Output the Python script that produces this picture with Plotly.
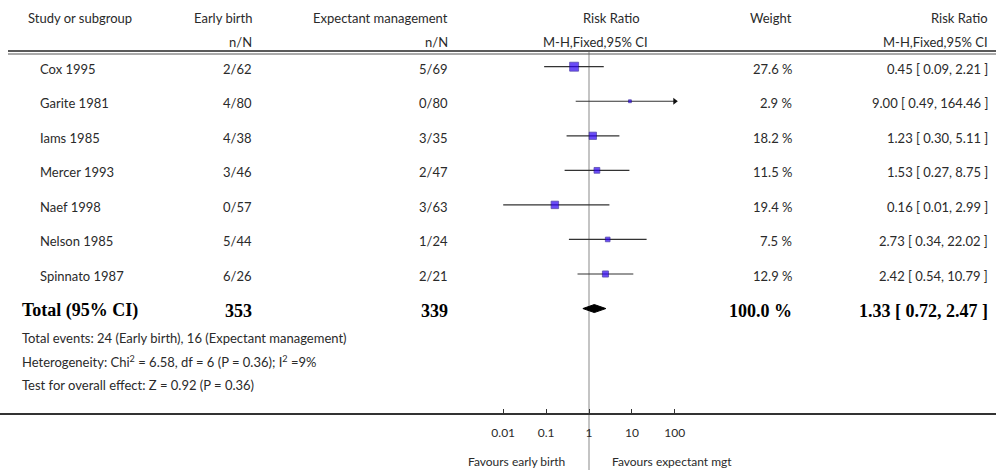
import plotly.graph_objects as go
import math

# ---------------- data ----------------
studies = ["Cox 1995", "Garite 1981", "Iams 1985", "Mercer 1993", "Naef 1998", "Nelson 1985", "Spinnato 1987"]
early_n = [2, 4, 4, 3, 0, 5, 6]
early_N = [62, 80, 38, 46, 57, 44, 26]
expect_n = [5, 0, 3, 2, 3, 1, 2]
expect_N = [69, 80, 35, 47, 63, 24, 21]
rr = [0.45, 9.00, 1.23, 1.53, 0.16, 2.73, 2.42]
rr_lo = [0.09, 0.49, 0.30, 0.27, 0.01, 0.34, 0.54]
rr_hi = [2.21, 164.46, 5.11, 8.75, 2.99, 22.02, 10.79]
weight = [27.6, 2.9, 18.2, 11.5, 19.4, 7.5, 12.9]

total_early = 353
total_expect = 339
total_weight = 100.0
total_rr = 1.33
total_lo = 0.72
total_hi = 2.47

tick_vals = [0.01, 0.1, 1, 10, 100]
tick_text = ["0.01", "0.1", "1", "10", "100"]

footer_lines = [
    "Total events: 24 (Early birth), 16 (Expectant management)",
    "Heterogeneity: Chi<sup>2</sup> = 6.58, df = 6 (P = 0.36); I<sup>2</sup> =9%",
    "Test for overall effect: Z = 0.92 (P = 0.36)",
]

# ---------------- layout helpers ----------------
W, H = 996, 470
X0_PX = 589.0       # pixel of RR = 1
DEC_PX = 42.9       # pixels per decade
AX_MAX = 100        # clip limit of the plot
ROW0 = 66.7
ROW_STEP = 34.55

FONT = "Lato, 'Open Sans', sans-serif"
SERIF = "'Liberation Serif', 'DejaVu Serif', serif"
TXT = "#2a2a2a"

def px(xp):
    return xp / W

row_y = [ROW0 + ROW_STEP * i for i in range(len(studies))]
total_y = ROW0 + ROW_STEP * len(studies)

fig = go.Figure()

# CI lines
for i in range(len(studies)):
    hi_c = min(rr_hi[i], AX_MAX)
    fig.add_trace(go.Scatter(
        x=[rr_lo[i], hi_c], y=[row_y[i], row_y[i]], mode="lines",
        line=dict(color="#333333", width=1.2), hoverinfo="skip", showlegend=False))
    if rr_hi[i] > AX_MAX:
        fig.add_trace(go.Scatter(
            x=[hi_c], y=[row_y[i]], mode="markers",
            marker=dict(symbol="triangle-right", size=6, color="#111111"),
            hoverinfo="skip", showlegend=False))

# point estimates (squares sized by weight)
fig.add_trace(go.Scatter(
    x=rr, y=row_y, mode="markers",
    marker=dict(symbol="square", size=[1.7 * math.sqrt(w) for w in weight],
                color="#2c00f5", line=dict(color="#14008c", width=0.8)),
    hoverinfo="skip", showlegend=False))

# diamond for total
dh = 4.0
fig.add_trace(go.Scatter(
    x=[total_lo, total_rr, total_hi, total_rr, total_lo],
    y=[total_y, total_y - dh, total_y, total_y + dh, total_y],
    mode="lines", fill="toself", fillcolor="#000000",
    line=dict(color="#000000", width=1), hoverinfo="skip", showlegend=False))

# ---------------- shapes ----------------
shapes = [
    dict(type="line", xref="x", yref="y", x0=1, x1=1, y0=52, y1=H,
         line=dict(color="#c4c4c4", width=2), layer="below"),
    dict(type="line", xref="paper", yref="y", x0=px(8), x1=1, y0=51, y1=51,
         line=dict(color="#222222", width=1.5)),
    dict(type="line", xref="paper", yref="y", x0=px(8), x1=1, y0=54, y1=54,
         line=dict(color="#555555", width=1)),
]

# ---------------- annotations ----------------
ann = []
def text(x, y, s, anchor="left", size=13, font=FONT, color=TXT):
    ann.append(dict(x=px(x), y=y, xref="paper", yref="y", text=s, showarrow=False,
                    xanchor=anchor, yanchor="middle",
                    font=dict(family=font, size=size, color=color)))

# header
text(26, 18, "Study or subgroup")
text(254, 18, "Early birth", "right")
text(254, 42, "n/N", "right")
text(450, 18, "Expectant management", "right")
text(450, 42, "n/N", "right")
text(611, 18, "Risk Ratio", "center")
text(595, 42, "M-H,Fixed,95% CI", "center")
text(794, 18, "Weight", "right")
text(990, 18, "Risk Ratio", "right")
text(990, 42, "M-H,Fixed,95% CI", "right")

# rows
for i, s in enumerate(studies):
    y = row_y[i] + 2
    text(38, y, s)
    text(254, y, f"{early_n[i]}/{early_N[i]}", "right")
    text(450, y, f"{expect_n[i]}/{expect_N[i]}", "right")
    text(794, y, f"{weight[i]:.1f} %", "right")
    text(990, y, f"{rr[i]:.2f} [ {rr_lo[i]:.2f}, {rr_hi[i]:.2f} ]", "right")

# total row
ty = total_y + 2
BS = 18
text(20, ty, "<b>Total (95% CI)</b>", size=BS, font=SERIF, color="#000")
text(254, ty, f"<b>{total_early}</b>", "right", size=BS, font=SERIF, color="#000")
text(450, ty, f"<b>{total_expect}</b>", "right", size=BS, font=SERIF, color="#000")
text(794, ty, f"<b>{total_weight:.1f} %</b>", "right", size=BS, font=SERIF, color="#000")
text(990, ty, f"<b>{total_rr:.2f} [ {total_lo:.2f}, {total_hi:.2f} ]</b>", "right",
     size=BS, font=SERIF, color="#000")

# footer
for k, s in enumerate(footer_lines):
    text(20, 338 + 23.5 * k, s, size=13)

# favours labels
text(567, 461, "Favours early birth", "right", size=12)
text(610, 461, "Favours expectant mgt", "left", size=12)

# ---------------- axes ----------------
lmin = -X0_PX / DEC_PX
lmax = (W - X0_PX) / DEC_PX

fig.update_layout(
    width=W, height=H, margin=dict(l=0, r=0, t=0, b=0),
    paper_bgcolor="white", plot_bgcolor="white",
    shapes=shapes, annotations=ann, showlegend=False,
    xaxis=dict(type="log", range=[lmin, lmax], domain=[0, 1],
               anchor="free", position=(H - 414) / H,
               showgrid=False, zeroline=False, showline=True,
               linecolor="#333333", linewidth=1.5,
               ticks="inside", ticklen=4, tickwidth=1, tickcolor="#333333",
               tickvals=tick_vals, ticktext=tick_text,
               tickfont=dict(family=FONT, size=12, color=TXT),
               ticklabelstandoff=8),
    yaxis=dict(range=[H, 0], domain=[0, 1], visible=False,
               showgrid=False, zeroline=False),
)

fig.write_html("out.html")
